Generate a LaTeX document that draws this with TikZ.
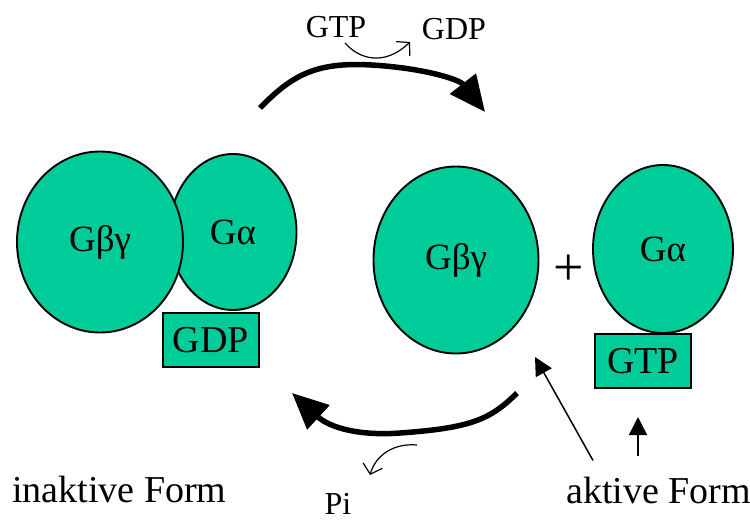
\documentclass[tikz,border=0pt]{standalone}
\usepackage{fontspec}
\setmainfont{Liberation Serif}
\usetikzlibrary{shapes.geometric,arrows.meta}
\definecolor{gprot}{RGB}{0,204,153}

\begin{document}
\begin{tikzpicture}[x=1pt, y=-1pt,
    every node/.style={font=\fontsize{37}{40}\selectfont},
    unit/.style={draw, ellipse, fill=gprot, line width=1.9pt, inner sep=0pt},
    nucl/.style={draw, rectangle, fill=gprot, line width=1.9pt, inner sep=0pt,
                 minimum width=96pt, minimum height=54pt,
                 font=\fontsize{38}{40}\selectfont},
    cofactor/.style={font=\fontsize{32}{34}\selectfont, inner sep=0pt},
    label/.style={font=\fontsize{38}{40}\selectfont, inner sep=0pt},
    turnover/.style={line width=5.5pt, -{Triangle[length=36pt, width=32pt]}},
    swap/.style={line width=1.2pt, -{Straight Barb[length=9pt, width=20pt]}},
    hint/.style={line width=1.5pt, -{Triangle[length=18pt, width=18pt]}}
]
\useasboundingbox (0,0) rectangle (750,520);

% inactive heterotrimer
\node[unit, minimum width=127pt, minimum height=156pt] (alphaL) at (233,232) {Gα};
\node[unit, minimum width=166pt, minimum height=181pt] (bgL) at (100,242) {Gβγ};
\node[nucl] (gdpL) at (211,340) {GDP};

% active subunits
\node[unit, minimum width=165pt, minimum height=187pt] (bgR) at (456,260) {Gβγ};
\node[font=\fontsize{54}{56}\selectfont] (plus) at (569,270) {+};
\node[unit, minimum width=140pt, minimum height=168pt] (alphaR) at (663,249) {Gα};
\node[nucl] (gtpR) at (643,361) {GTP};

% exchange GTP / GDP
\coordinate (actA) at (260,108);
\coordinate (actB) at (485,112);
\draw[turnover] (actA) .. controls (295,72) and (320,60) .. (385,66)
    .. controls (430,70) and (460,80) .. (actB);
\node[cofactor, anchor=base] (gtpIn) at (336,37) {GTP};
\node[cofactor, anchor=base] (gdpOut) at (454,39) {GDP};
\coordinate (swA) at (345,43);
\coordinate (swB) at (410,42);
\draw[swap] (swA) .. controls (360,60) and (385,66) .. (swB);

% hydrolysis
\coordinate (hydA) at (517,393);
\coordinate (hydB) at (292,393);
\draw[turnover] (hydA) .. controls (490,420) and (470,428) .. (400,433)
    .. controls (360,436) and (330,428) .. (hydB);
\coordinate (piA) at (417,445);
\coordinate (piB) at (370,475);
\draw[swap] (piA) .. controls (395,443) and (376,454) .. (piB);
\node[cofactor, anchor=base] (pi) at (338,514) {Pi};

% forms
\node[label, anchor=base west] (inaktiv) at (12,502) {inaktive Form};
\node[label, anchor=base west] (aktiv) at (566,503) {aktive Form};
\coordinate (tipBG) at (535,357);
\coordinate (tipGTP) at (638,417);
\draw[hint] (aktiv.north west) ++(27,-16) coordinate (fromA) -- (tipBG);
\draw[hint] (aktiv.north west) ++(72,-20) coordinate (fromB) -- (tipGTP);

\end{tikzpicture}
\end{document}
